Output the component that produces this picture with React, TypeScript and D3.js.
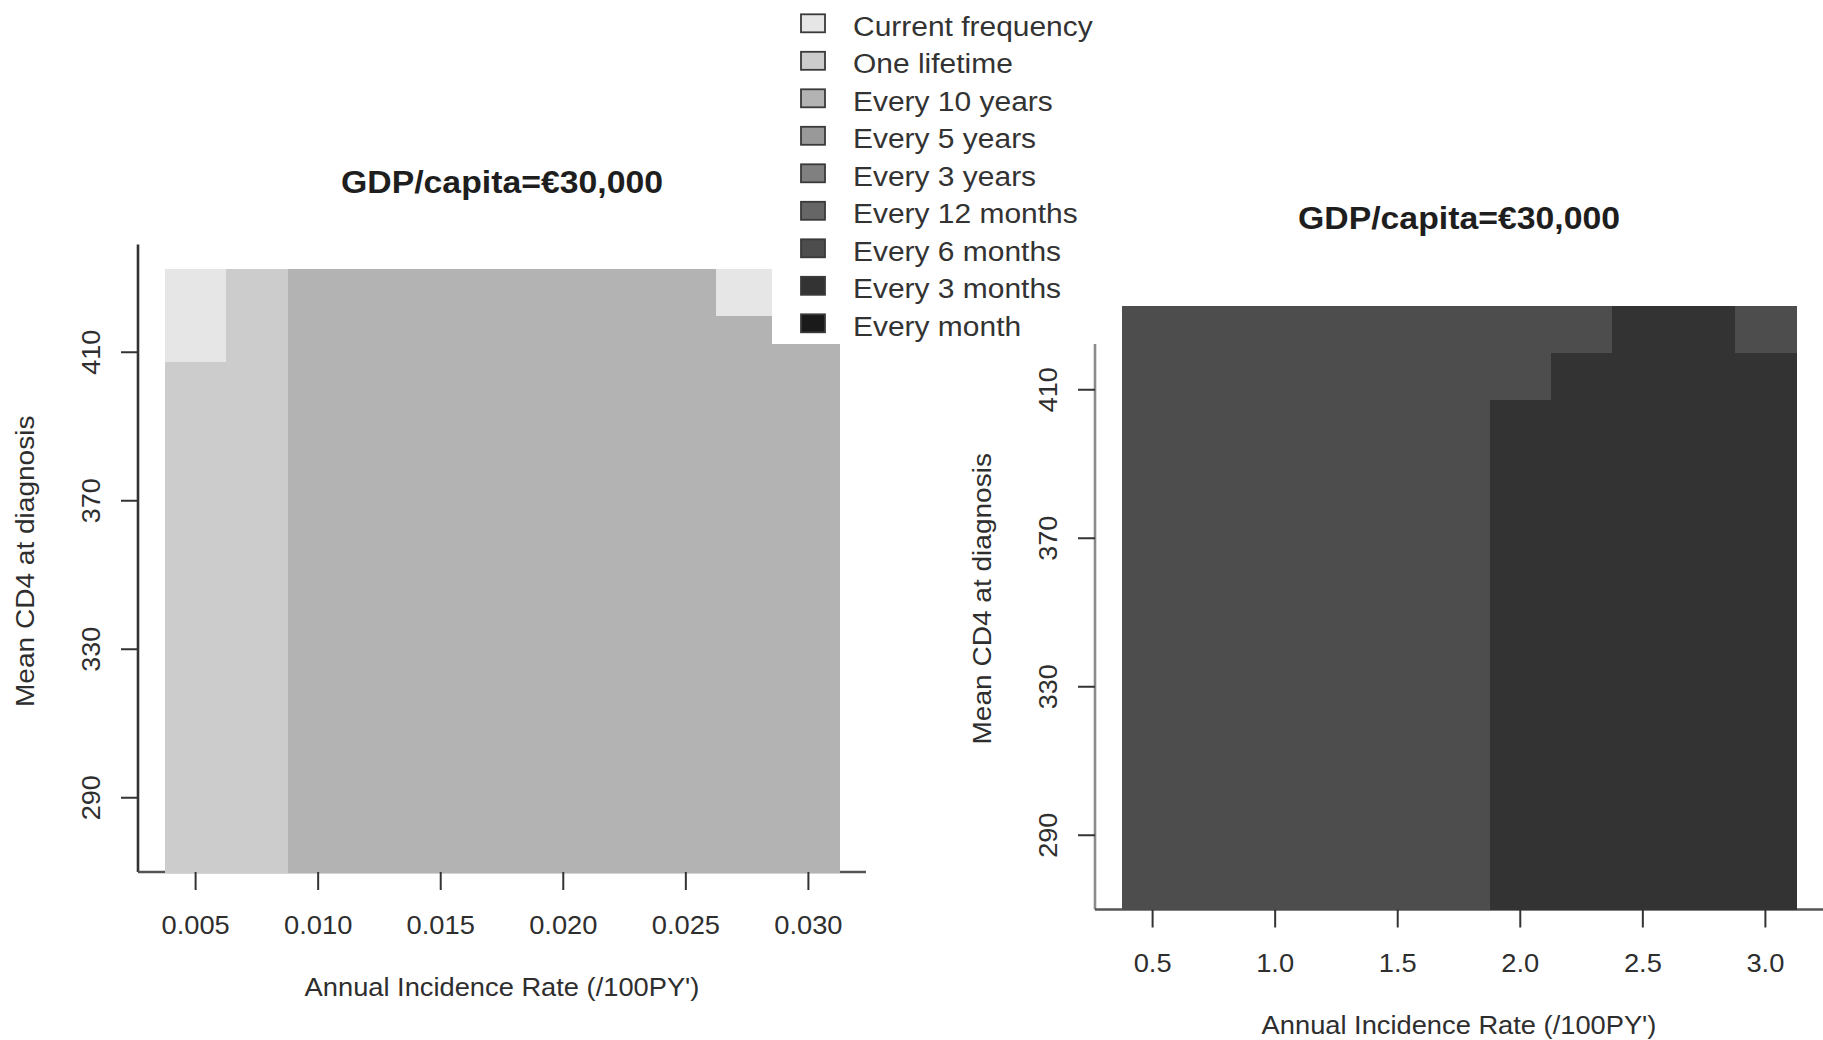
import React, { useEffect } from "react";
import * as d3 from "d3";

// ---------- data ----------
const categories = [
  "Current frequency",
  "One lifetime",
  "Every 10 years",
  "Every 5 years",
  "Every 3 years",
  "Every 12 months",
  "Every 6 months",
  "Every 3 months",
  "Every month",
];
const categoryColors = [
  "#e6e6e6",
  "#cccccc",
  "#b3b3b3",
  "#999999",
  "#808080",
  "#666666",
  "#4d4d4d",
  "#333333",
  "#1a1a1a",
];

const leftIncidence = [0.005, 0.0075, 0.01, 0.0125, 0.015, 0.0175, 0.02, 0.0225, 0.025, 0.0275, 0.03];
const rightIncidence = [0.5, 0.75, 1.0, 1.25, 1.5, 1.75, 2.0, 2.25, 2.5, 2.75, 3.0];
const cd4Levels = [276.25, 288.75, 301.25, 313.75, 326.25, 338.75, 351.25, 363.75, 376.25, 388.75, 401.25, 413.75, 426.25];

// strategy index per cell, rows from lowest CD4 (first) to highest (last)
const leftStrategy = [
  [1, 1, 2, 2, 2, 2, 2, 2, 2, 2, 2],
  [1, 1, 2, 2, 2, 2, 2, 2, 2, 2, 2],
  [1, 1, 2, 2, 2, 2, 2, 2, 2, 2, 2],
  [1, 1, 2, 2, 2, 2, 2, 2, 2, 2, 2],
  [1, 1, 2, 2, 2, 2, 2, 2, 2, 2, 2],
  [1, 1, 2, 2, 2, 2, 2, 2, 2, 2, 2],
  [1, 1, 2, 2, 2, 2, 2, 2, 2, 2, 2],
  [1, 1, 2, 2, 2, 2, 2, 2, 2, 2, 2],
  [1, 1, 2, 2, 2, 2, 2, 2, 2, 2, 2],
  [1, 1, 2, 2, 2, 2, 2, 2, 2, 2, 2],
  [1, 1, 2, 2, 2, 2, 2, 2, 2, 2, 2],
  [0, 1, 2, 2, 2, 2, 2, 2, 2, 2, 2],
  [0, 1, 2, 2, 2, 2, 2, 2, 2, 0, 0],
];
const rightStrategy = [
  [6, 6, 6, 6, 6, 6, 7, 7, 7, 7, 7],
  [6, 6, 6, 6, 6, 6, 7, 7, 7, 7, 7],
  [6, 6, 6, 6, 6, 6, 7, 7, 7, 7, 7],
  [6, 6, 6, 6, 6, 6, 7, 7, 7, 7, 7],
  [6, 6, 6, 6, 6, 6, 7, 7, 7, 7, 7],
  [6, 6, 6, 6, 6, 6, 7, 7, 7, 7, 7],
  [6, 6, 6, 6, 6, 6, 7, 7, 7, 7, 7],
  [6, 6, 6, 6, 6, 6, 7, 7, 7, 7, 7],
  [6, 6, 6, 6, 6, 6, 7, 7, 7, 7, 7],
  [6, 6, 6, 6, 6, 6, 7, 7, 7, 7, 7],
  [6, 6, 6, 6, 6, 6, 7, 7, 7, 7, 7],
  [6, 6, 6, 6, 6, 6, 6, 7, 7, 7, 7],
  [6, 6, 6, 6, 6, 6, 6, 6, 7, 7, 6],
];

const leftXTicks = [0.005, 0.01, 0.015, 0.02, 0.025, 0.03];
const rightXTicks = [0.5, 1.0, 1.5, 2.0, 2.5, 3.0];
const yTicks = [290, 330, 370, 410];

const panelTitle = "GDP/capita=\u20AC30,000";
const xTitle = "Annual Incidence Rate (/100PY')";
const yTitle = "Mean CD4 at diagnosis";

// ---------- layout ----------
const W = 1823;
const H = 1040;
const FONT = "'Liberation Sans', Arial, Helvetica, sans-serif";
const TEXT = "#2e2e2e";

function SText({ x, y, text, size, weight = "normal", anchor = "middle", sx = 1.1, rotate = 0, fill = TEXT }: any) {
  return (
    <g transform={`translate(${x},${y}) rotate(${rotate}) scale(${sx},1)`}>
      <text textAnchor={anchor} fontSize={size} fontWeight={weight} fontFamily={FONT} fill={fill}>
        {text}
      </text>
    </g>
  );
}

function extent(values: number[]) {
  const step = values[1] - values[0];
  return [values[0] - step / 2, values[values.length - 1] + step / 2];
}

function Panel({ xs, strategy, xTicks, fmt, left, right, axisY, titleY, yAxisColor }: any) {
  const [dx0, dx1] = extent(xs);
  const padX = (dx1 - dx0) * 0.04;
  const x = d3.scaleLinear().domain([dx0 - padX, dx1 + padX]).range([left, right]);
  const y = d3
    .scaleLinear()
    .domain([270, 439])
    .range([axisY, axisY - 169 * 3.7125]);
  const xStep = xs[1] - xs[0];
  const yStep = cd4Levels[1] - cd4Levels[0];
  const cells: any[] = [];
  strategy.forEach((row: number[], ri: number) => {
    row.forEach((s: number, ci: number) => {
      const xv = xs[ci];
      const yv = cd4Levels[ri];
      const x0 = x(xv - xStep / 2);
      const x1 = x(xv + xStep / 2);
      const y0 = y(yv + yStep / 2);
      const y1 = y(Math.max(yv - yStep / 2, 270));
      cells.push(
        <rect
          key={`${ri}-${ci}`}
          x={x0}
          y={y0}
          width={x1 - x0 + 0.6}
          height={y1 - y0 + 0.6}
          fill={categoryColors[s]}
          shapeRendering="crispEdges"
        />
      );
    });
  });
  const yTop = y(439);
  const cx = (left + right) / 2;
  const cy = (y(270) + y(439)) / 2;
  return (
    <g>
      <SText x={cx} y={titleY} text={panelTitle} size={31} weight="bold" sx={1.09} fill="#1e1e1e" />
      {/* L-shaped box */}
      <line x1={left} x2={left} y1={yTop} y2={axisY} stroke={yAxisColor} strokeWidth={2.6} />
      <line x1={left} x2={right} y1={axisY} y2={axisY} stroke="#555" strokeWidth={2.6} />
      {cells}
      {/* x axis ticks */}
      {xTicks.map((t: number) => (
        <g key={t}>
          <line x1={x(t)} x2={x(t)} y1={axisY} y2={axisY + 18} stroke="#333" strokeWidth={2} />
          <SText x={x(t)} y={axisY + 62} text={fmt(t)} size={26} sx={1.05} />
        </g>
      ))}
      <SText x={cx} y={axisY + 124} text={xTitle} size={25.5} sx={1.07} />
      {/* y axis ticks */}
      {yTicks.map((t) => (
        <g key={t}>
          <line x1={left - 17} x2={left} y1={y(t)} y2={y(t)} stroke="#333" strokeWidth={2} />
          <SText x={left - 38} y={y(t)} text={String(t)} size={26} sx={1.04} rotate={-90} />
        </g>
      ))}
      <SText x={left - 104} y={cy + 3} text={yTitle} size={25.5} sx={1.1} rotate={-90} />
    </g>
  );
}

function Legend() {
  const boxX = 772;
  const boxW = 325.5;
  const boxH = 344;
  const top = 23.3;
  const step = 37.5;
  return (
    <g>
      <rect x={boxX} y={0} width={boxW} height={boxH} fill="#ffffff" />
      {categories.map((c, i) => {
        const cy = top + i * step;
        return (
          <g key={c}>
            <rect x={801} y={cy - 9} width={24} height={18} fill={categoryColors[i]} stroke="#3a3a3a" strokeWidth={1.8} />
            <SText x={853} y={cy + 12.5} text={c} size={28} anchor="start" sx={1.07} fill="#333333" />
          </g>
        );
      })}
    </g>
  );
}

export default function App() {
  useEffect(() => {
    document.body.style.margin = "0";
  }, []);
  return (
    <svg width={W} height={H} viewBox={`0 0 ${W} ${H}`} style={{ position: "absolute", left: 0, top: 0, background: "#fff" }}>
      <rect x={0} y={0} width={W} height={H} fill="#ffffff" />
      <Panel
        xs={leftIncidence}
        strategy={leftStrategy}
        xTicks={leftXTicks}
        fmt={d3.format(".3f")}
        left={138}
        right={866}
        axisY={872}
        titleY={193}
        yAxisColor="#333"
      />
      <Panel
        xs={rightIncidence}
        strategy={rightStrategy}
        xTicks={rightXTicks}
        fmt={d3.format(".1f")}
        left={1095}
        right={1823}
        axisY={909.5}
        titleY={229}
        yAxisColor="#8a8a8a"
      />
      <Legend />
    </svg>
  );
}
